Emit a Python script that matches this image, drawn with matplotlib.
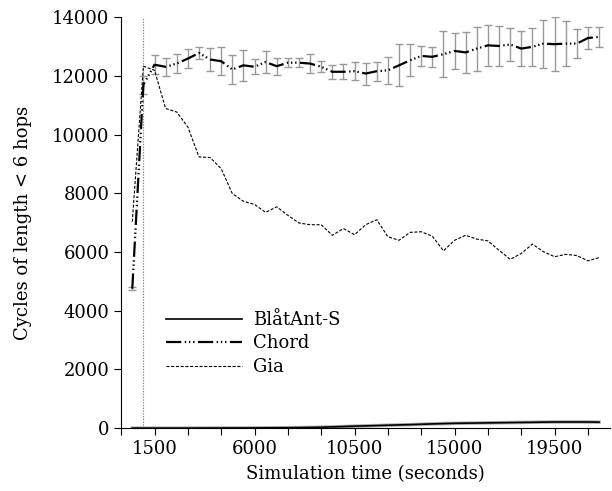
import matplotlib
matplotlib.use("Agg")
import matplotlib.pyplot as plt
import numpy as np

plt.rcParams['font.family'] = 'DejaVu Serif'
plt.rcParams['font.size'] = 13
plt.rcParams['lines.scale_dashes'] = False

# simulation time (seconds)
time_s = list(range(500, 22000, 500))

chord = [4750, 11700, 12380, 12310, 12420, 12590, 12780, 12560, 12500, 12220,
         12360, 12310, 12470, 12330, 12450, 12450, 12420, 12310, 12140, 12140,
         12160, 12080, 12160, 12190, 12360, 12530, 12680, 12650, 12740, 12850,
         12800, 12930, 13040, 13020, 13070, 12930, 12990, 13100, 13080, 13100,
         13100, 13290, 13330]
chord_err = [60, 300, 320, 300, 330, 320, 215, 385, 480, 495,
             530, 250, 370, 285, 155, 155, 325, 190, 245, 255,
             300, 375, 330, 455, 710, 545, 340, 330, 780, 625,
             705, 750, 710, 670, 550, 600, 655, 820, 915, 760,
             490, 390, 330]

gia = [7030, 12330, 12190, 10890, 10770, 10260, 9240, 9220, 8840, 7990,
       7730, 7620, 7350, 7540, 7250, 6990, 6930, 6930, 6570, 6800,
       6590, 6930, 7100, 6520, 6400, 6670, 6690, 6540, 6040, 6400,
       6570, 6440, 6380, 6060, 5750, 5950, 6270, 6010, 5840, 5920,
       5880, 5700, 5810]

blatant = [0, 0, 0, 0, 0, 0, 2, 3, 4, 5,
           6, 8, 10, 12, 14, 18, 24, 32, 42, 55,
           68, 78, 88, 100, 110, 120, 132, 145, 155, 165,
           170, 175, 180, 185, 190, 195, 200, 205, 210, 210,
           210, 210, 205]

xtick_pos = list(range(0, 22000, 1500))
xtick_shown = [1500, 6000, 10500, 15000, 19500]
ytick_pos = [0, 2000, 4000, 6000, 8000, 10000, 12000, 14000]

fig = plt.figure(figsize=(6.12, 4.91), dpi=100)
ax = fig.add_axes([0.198, 0.128, 0.799, 0.837])

ax.axvline(1000, color='#888888', lw=0.8, ls=(0, (1, 1)))

ax.errorbar(time_s, chord, yerr=chord_err, fmt='none', ecolor='#999999',
            elinewidth=1.0, capsize=3, capthick=1.0)

# thin grey band under BlatAnt-S (small spread)
ax.plot(time_s, blatant, color='#aaaaaa', lw=2.5)
l1, = ax.plot(time_s, blatant, color='black', lw=1.2, label='BlåtAnt-S')
l2, = ax.plot(time_s, chord, color='black', lw=1.6, label='Chord')
l2.set_dashes([11, 2.5, 1, 2, 1, 2, 1, 2.5])
l3, = ax.plot(time_s, gia, color='black', lw=0.8, label='Gia')
l3.set_dashes([2.2, 1.2])

ax.set_xlim(0, 22000)
ax.set_ylim(0, 14000)
ax.set_xticks(xtick_pos)
ax.set_xticklabels([str(t) if t in xtick_shown else '' for t in xtick_pos])
ax.set_yticks(ytick_pos)
ax.tick_params(direction='out', length=5, width=0.8)

for s in ['top', 'right']:
    ax.spines[s].set_visible(False)

ax.set_xlabel('Simulation time (seconds)', labelpad=5)
ax.set_ylabel('Cycles of length < 6 hops', labelpad=14)

fig.legend(handles=[l1, l2, l3], loc='upper left',
           bbox_to_anchor=(166 / 612, 1 - 311 / 491), frameon=False,
           handlelength=4.2, handletextpad=0.6, labelspacing=0.3,
           borderpad=0, borderaxespad=0)

fig.savefig('out.png', dpi=100)
